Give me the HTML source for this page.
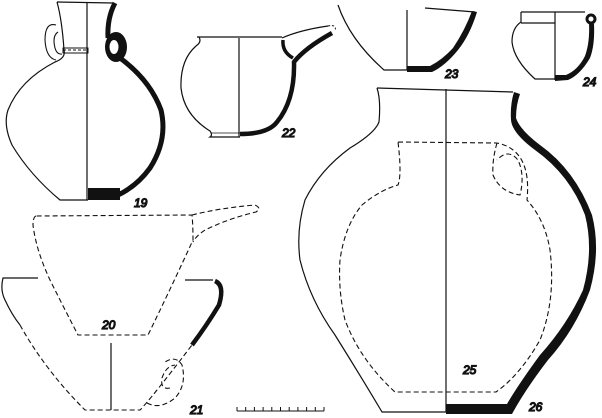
<!DOCTYPE html>
<html><head><meta charset="utf-8"><style>
html,body{margin:0;padding:0;background:#fff;width:602px;height:418px;overflow:hidden}
svg{display:block}
text{font-family:"Liberation Sans",sans-serif;font-style:italic;font-size:12px;fill:#222}
</style></head><body>
<svg width="602" height="418" viewBox="0 0 602 418" xmlns="http://www.w3.org/2000/svg" fill="none" stroke="#111" stroke-width="1.2">
<!-- 19 -->
<path d="M57,2 L113,3"/>
<path d="M57,2 Q62,20 64,50 Q66,58 55,62 Q20,80 8,110 Q3,125 12,145 Q30,175 60,200 L88,200"/>
<path d="M87,3 L87,200"/>
<path d="M63,48 L88,48 L88,53 L63,53 Z" stroke-width="1"/>
<path d="M63,50 L88,50" stroke-dasharray="3,2" stroke-width="1"/>
<path d="M56,25 Q45,22 45,40 Q46,58 56,60 M58,32 Q52,36 55,48 Q57,55 62,54" stroke-width="1.1"/>
<path d="M115,3 Q107,18 108,38" stroke-width="5"/>
<ellipse cx="116" cy="47" rx="11" ry="15" fill="#111" stroke="none"/>
<ellipse cx="114" cy="47" rx="4.5" ry="7" fill="#fff" stroke="none"/>
<path d="M120,58 Q150,80 161,110 Q168,140 150,168 Q137,186 118,195" stroke-width="5"/>
<rect x="88" y="188" width="32" height="12" fill="#111" stroke="none"/>
<text x="134" y="207">19</text>
<!-- 22 -->
<path d="M197,37 L282,37"/>
<path d="M199,37 Q202,42 196,46 Q180,60 181,88 Q184,115 210,131 Q213,135 210,137 L240,137"/>
<path d="M239,38 L239,137"/>
<path d="M211,133 L240,133" stroke-width="0.8"/>
<path d="M282,38 Q300,30 328,26"/>
<path d="M328,26 Q337,24 335,31" stroke-dasharray="2,2" stroke-width="1"/>
<path d="M332,33 Q305,48 294,62 Q295,100 277,122 Q268,134 240,134" stroke-width="4.5"/>
<path d="M283,40 Q282,52 293,58" stroke-width="3.5"/>
<text x="282" y="137">22</text>
<!-- 23 -->
<path d="M338,5 Q350,40 384,70 L407,70"/>
<path d="M407,10 L407,70"/>
<path d="M425,8 L475,12"/>
<path fill="#111" stroke="none" d="M472,11 L477,12 Q470,35 458,50 Q445,66 432,72 L407,72 L407,66 L430,66 Q442,60 453,48 Q465,30 472,11 Z"/>
<text x="445" y="78">23</text>
<!-- 24 -->
<path d="M521,12 L521,22 Q512,28 512,42 Q514,60 535,79 L555,79"/>
<path d="M521,12 L585,12 M521,23 L555,23"/>
<path d="M555,12 L555,80"/>
<circle cx="591" cy="19" r="4" stroke-width="3"/>
<path fill="#111" stroke="none" d="M589,23 L594,24 Q595,45 590,58 Q580,75 568,80 L555,81 L555,75 L566,75 Q578,70 585,56 Q590,42 589,23 Z"/>
<text x="583" y="86">24</text>
<!-- 20 dashed -->
<g stroke-dasharray="5,3" stroke-width="1.1">
<path d="M36,216 Q33,217 33,225 Q36,250 50,280 Q65,310 78,335 L148,335 Q170,290 193,240 Q193,225 192,215 Z"/>
<path d="M192,215 Q220,208 255,205 Q262,208 256,212 Q230,218 205,230 Q196,236 193,242"/>
<!-- 21 -->
<path d="M20,325 Q45,370 85,410 L140,410 Q150,400 192,345"/>
<path d="M147,403 Q160,410 175,398 Q187,385 182,365 Q176,355 165,362"/>
<path d="M170,388 Q160,390 162,378 Q166,366 175,365"/>
<!-- 25 -->
<path d="M398,142 L497,143 Q532,150 527,200 Q545,220 550,250 Q556,300 540,340 Q520,375 496,392 L395,392 Q360,360 345,320 Q338,290 340,260 Q345,225 362,205 Q380,190 398,185 Q402,175 398,142 Z"/>
<path d="M497,143 Q492,160 493,175 Q500,192 520,195 Q525,175 518,160 Q508,148 497,160"/>
</g>
<path d="M38,278 L3,278 Q0,290 5,300 Q12,315 20,325"/>
<path d="M111,343 L111,410"/>
<path d="M185,280 L213,280"/>
<path d="M215,281 Q225,285 219,305 Q207,325 192,345" stroke-width="4.5"/>
<text x="102" y="329">20</text>
<text x="190" y="414">21</text>
<!-- scale -->
<path d="M237,411 L324,411 M237,411 v-4 M245.7,411 v-4 M254.4,411 v-4 M263.1,411 v-4 M271.8,411 v-4 M280.5,411 v-4 M289.2,411 v-4 M297.9,411 v-4 M306.6,411 v-4 M315.3,411 v-4 M324,411 v-4" stroke-width="1"/>
<!-- 26 -->
<path d="M377,88 L513,92"/>
<path d="M446,89 L446,412"/>
<path d="M377,88 Q381,100 379,122 Q375,133 350,148 Q320,170 305,200 Q296,230 300,260 Q310,300 335,335 Q360,375 382,412 L446,412"/>
<path fill="#111" stroke="none" d="M514,92 L520,94 Q516,105 516,118 Q520,130 540,145 Q575,170 592,215 Q601,250 590,290 Q575,330 548,360 Q525,390 512,414 L446,414 L446,404 L507,404 Q518,385 540,355 Q567,325 583,290 Q594,250 585,215 Q570,175 535,150 Q512,133 511,120 Q510,105 514,92 Z"/>
<text x="463" y="374">25</text>
<text x="529" y="411">26</text>
</svg>
</body></html>
